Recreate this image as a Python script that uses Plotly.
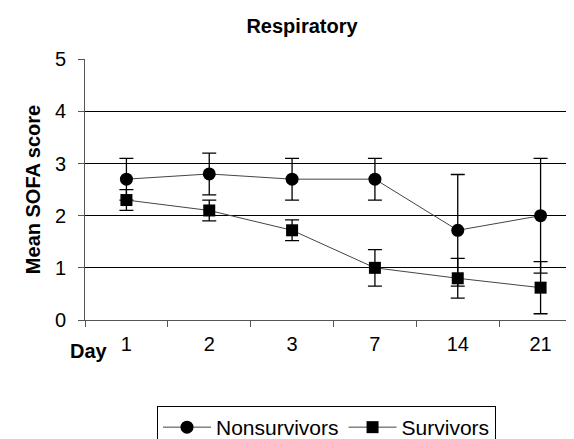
import plotly.graph_objects as go

days = ["1", "2", "3", "7", "14", "21"]
nonsurv_mean = [2.7, 2.8, 2.7, 2.7, 1.72, 2.0]
nonsurv_err = [0.4, 0.4, 0.4, 0.4, 1.07, 1.1]
surv_mean = [2.3, 2.1, 1.72, 1.0, 0.8, 0.62]
surv_err = [0.2, 0.2, 0.2, 0.35, 0.38, 0.5]

FONT = "Liberation Sans, Arial, sans-serif"
L, T, B = 77, 51, 127
W, H = 574, 439
PW, PH = W - L, H - T - B

def px_x(x):
    return (x - L) / PW

def px_y(y):
    return (H - B - y) / PH

fig = go.Figure()
fig.add_trace(go.Scatter(
    x=days, y=nonsurv_mean, name="Nonsurvivors", mode="lines+markers",
    line=dict(color="#444444", width=1),
    marker=dict(symbol="circle", size=13, color="black"),
    error_y=dict(type="data", array=nonsurv_err, visible=True, color="black", thickness=1.3, width=7),
))
fig.add_trace(go.Scatter(
    x=days, y=surv_mean, name="Survivors", mode="lines+markers",
    line=dict(color="#444444", width=1),
    marker=dict(symbol="square", size=12, color="black"),
    error_y=dict(type="data", array=surv_err, visible=True, color="black", thickness=1.3, width=7),
))

fig.update_layout(
    width=W, height=H,
    margin=dict(l=L, r=0, t=T, b=B, autoexpand=False),
    paper_bgcolor="white", plot_bgcolor="white",
    font=dict(family=FONT, color="black", size=20),
    title=dict(text="<b>Respiratory</b>", x=294 / W, xanchor="center", y=1 - 18 / H, yanchor="middle",
               font=dict(size=20, family=FONT, color="black")),
    showlegend=True,
    legend=dict(orientation="h", x=px_x(149), xanchor="left", y=px_y(398), yanchor="top",
                bordercolor="black", borderwidth=1, font=dict(size=21, family=FONT),
                itemwidth=48, tracegroupgap=0),
    annotations=[dict(text="<b>Day</b>", x=px_x(81), xref="paper", y=px_y(343), yref="paper",
                      xanchor="center", yanchor="middle",
                      showarrow=False, font=dict(size=20, family=FONT))],
)

fig.update_xaxes(
    type="category", tickson="boundaries", ticks="outside", ticklen=6,
    tickcolor="#555555", showline=True, linecolor="#555555", linewidth=1,
    showgrid=False, tickfont=dict(size=20, family=FONT), range=[-0.5, 5.5],
    ticklabelstandoff=6, automargin=False,
)
fig.update_yaxes(
    range=[0, 5.004], tickvals=[0, 1, 2, 3, 4, 5], ticks="outside", ticklen=6, tickcolor="#555555",
    showline=True, linecolor="#555555", linewidth=1,
    showgrid=True, gridcolor="black", gridwidth=1, zeroline=False,
    tickfont=dict(size=20, family=FONT), ticklabelstandoff=8, automargin=False,
    title=dict(text="<b>Mean SOFA score</b>", font=dict(size=20, family=FONT), standoff=8),
)

fig.write_html("out.html")
